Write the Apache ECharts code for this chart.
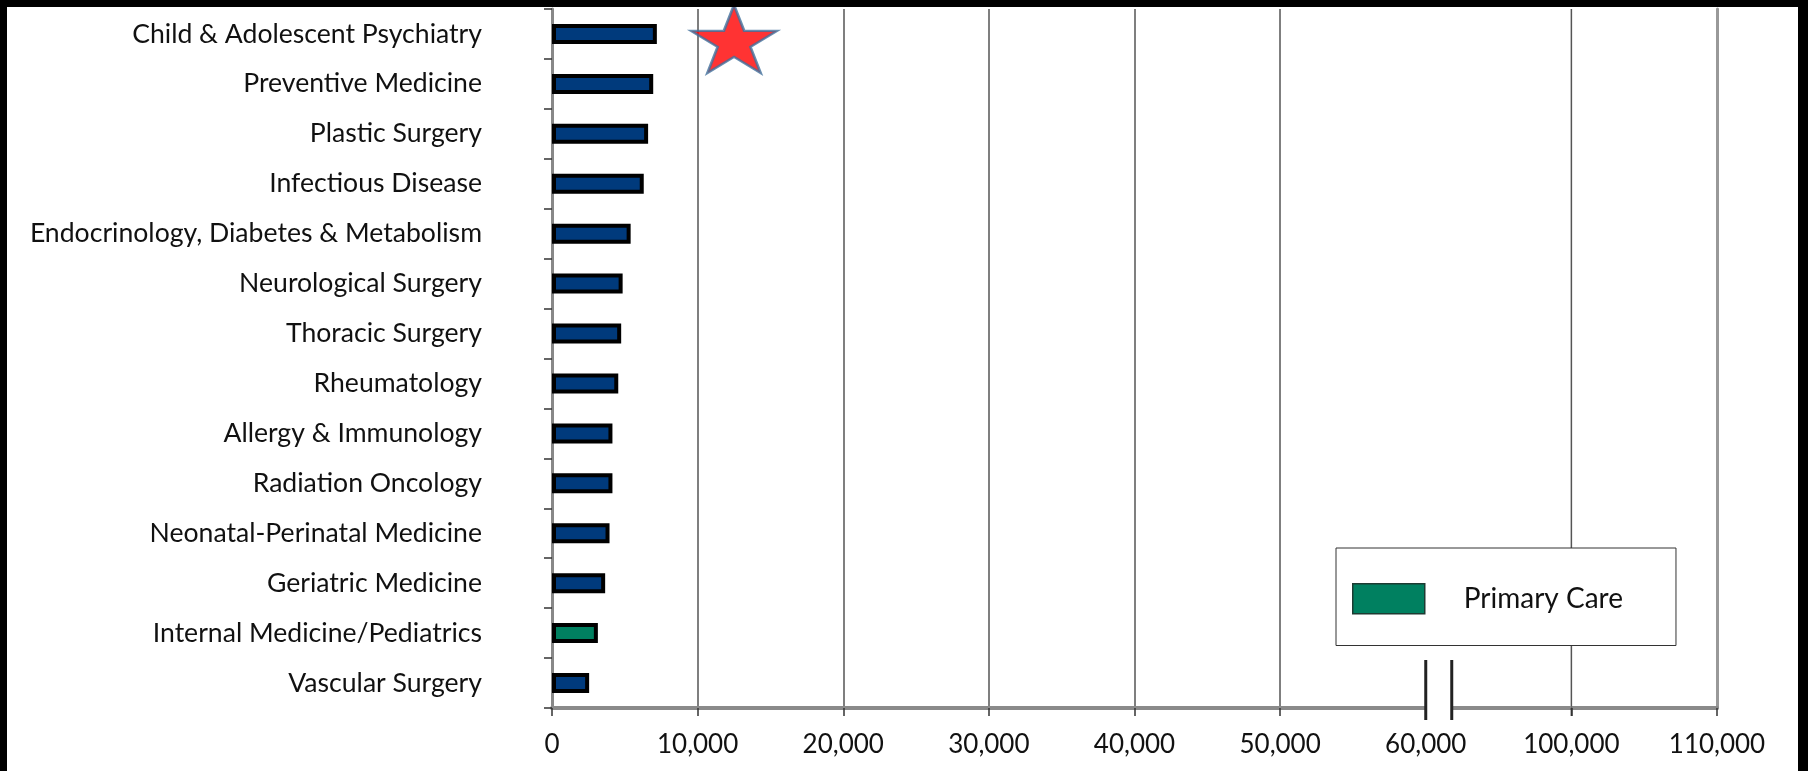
<!DOCTYPE html>
<html>
<head>
<meta charset="utf-8">
<script src="https://cdn.jsdelivr.net/npm/echarts@6/dist/echarts.min.js"></script>
<style>
  html, body { margin: 0; padding: 0; background: #fff; }
  #chart { width: 1808px; height: 771px; }
  #frame {
    position: absolute; left: 0; top: 0; width: 1808px; height: 771px;
    box-sizing: border-box; pointer-events: none;
    border-top: 7px solid #000; border-left: 7px solid #000; border-right: 10px solid #000;
  }
</style>
</head>
<body>
<div id="chart"></div>
<div id="frame"></div>
<script>
// Specialties, top to bottom
const specialties = [
  'Child & Adolescent Psychiatry',
  'Preventive Medicine',
  'Plastic Surgery',
  'Infectious Disease',
  'Endocrinology, Diabetes & Metabolism',
  'Neurological Surgery',
  'Thoracic Surgery',
  'Rheumatology',
  'Allergy & Immunology',
  'Radiation Oncology',
  'Neonatal-Perinatal Medicine',
  'Geriatric Medicine',
  'Internal Medicine/Pediatrics',
  'Vascular Surgery'
];

// Number of active physicians per specialty
const physicianCounts = [7200, 6950, 6600, 6300, 5400, 4850, 4750, 4550, 4150, 4150, 3950, 3650, 3150, 2550];

// Specialties counted as primary care
const primaryCare = ['Internal Medicine/Pediatrics'];

// Highlight star placed beside the first specialty
const starValue = 12500;
const starSpecialty = 'Child & Adolescent Psychiatry';

// Axis range and the broken stretch between 60,000 and 100,000
const axisMax = 110000;
const axisStep = 10000;
const breakStart = 60000;
const breakEnd = 100000;

const NAVY = '#003a7c';
const GREEN = '#008060';
const FONT = 'Lato';
const TEXT = '#111';
const AXIS_GREY = '#8a8a8a';
const GRID_GREY = '#555';

const specialtyData = specialties.map((s, i) => primaryCare.includes(s) ? '-' : physicianCounts[i]);
const primaryData = specialties.map((s, i) => primaryCare.includes(s) ? physicianCounts[i] : '-');

const STAR_PATH = 'path://M0,-100L22.45,-30.9L95.1,-30.9L36.33,11.8L58.78,80.9L0,38.2L-58.78,80.9L-36.33,11.8L-95.1,-30.9L-22.45,-30.9Z';

const GRID = { left: 552, right: 91, top: 9, bottom: 63 };

const chart = echarts.init(document.getElementById('chart'), null, { renderer: 'canvas' });

const barStyle = (color) => ({ color: color, borderColor: '#000', borderWidth: 4 });

chart.setOption({
  animation: false,
  backgroundColor: '#fff',
  textStyle: { fontFamily: FONT },
  grid: GRID,
  legend: {
    data: ['Primary Care'],
    left: 1336,
    top: 548,
    orient: 'horizontal',
    padding: [35, 53, 31, 16],
    itemWidth: 72,
    itemHeight: 30,
    icon: 'rect',
    backgroundColor: '#fff',
    borderColor: '#333',
    borderWidth: 1,
    itemStyle: { borderColor: '#1d3b32', borderWidth: 1.5 },
    textStyle: { fontFamily: FONT, fontSize: 28, color: TEXT, padding: [0, 0, 0, 34] },
    selectedMode: false,
    z: 10
  },
  xAxis: {
    type: 'value',
    min: 0,
    max: axisMax,
    interval: axisStep,
    breaks: [{ start: breakStart, end: breakEnd, gap: axisStep }],
    breakArea: { show: false },
    axisLine: { show: true, lineStyle: { color: AXIS_GREY, width: 4 } },
    axisTick: { show: true, length: 8, lineStyle: { color: '#333', width: 1.5 } },
    axisLabel: {
      margin: 24,
      fontFamily: FONT,
      fontSize: 26,
      color: TEXT,
      formatter: (v) => Number(v).toLocaleString('en-US')
    },
    splitLine: { show: true, lineStyle: { color: GRID_GREY, width: 1.5 } }
  },
  yAxis: [
    {
      type: 'category',
      data: specialties,
      inverse: true,
      axisLine: { show: true, lineStyle: { color: '#888', width: 3 } },
      axisTick: { show: true, length: 8, lineStyle: { color: '#333', width: 1.5 } },
      axisLabel: { margin: 70, fontFamily: FONT, fontSize: 26.6, color: TEXT },
      splitLine: { show: false }
    },
    {
      type: 'category',
      data: specialties,
      inverse: true,
      position: 'right',
      axisLine: { show: true, lineStyle: { color: '#999', width: 3 } },
      axisTick: { show: false },
      axisLabel: { show: false },
      splitLine: { show: false }
    }
  ],
  series: [
    {
      name: 'Specialty',
      type: 'bar',
      data: specialtyData,
      barWidth: 20,
      barGap: '-100%',
      itemStyle: barStyle(NAVY)
    },
    {
      name: 'Primary Care',
      type: 'bar',
      data: primaryData,
      barWidth: 20,
      barGap: '-100%',
      itemStyle: barStyle(GREEN)
    },
    {
      name: 'Highlight',
      type: 'scatter',
      data: [[starValue, starSpecialty]],
      symbol: STAR_PATH,
      symbolSize: [86, 68],
      symbolOffset: [0, 5],
      itemStyle: { color: '#ff0000', borderColor: '#41719c', borderWidth: 2.5 },
      z: 5
    }
  ]
});

// Axis break: baseline resumes just past 60,000, with two short bars marking the cut
const axisY = 771 - GRID.bottom;
const topY = GRID.top;
const breakX = chart.convertToPixel({ xAxisIndex: 0 }, breakStart);
const resumeX = chart.convertToPixel({ xAxisIndex: 0 }, breakEnd);
const breakW = 26;
chart.setOption({
  graphic: [
    { type: 'line', z: 1, shape: { x1: resumeX, y1: topY, x2: resumeX, y2: axisY }, style: { stroke: GRID_GREY, lineWidth: 1.5 } },
    { type: 'line', z: 2, shape: { x1: breakX + breakW, y1: axisY, x2: resumeX, y2: axisY }, style: { stroke: AXIS_GREY, lineWidth: 4 } },
    { type: 'line', z: 2, shape: { x1: resumeX, y1: axisY, x2: resumeX, y2: axisY + 8 }, style: { stroke: '#333', lineWidth: 1.5 } },
    { type: 'rect', z: 3, shape: { x: breakX + 1, y: axisY - 4, width: breakW - 2, height: 8 }, style: { fill: '#fff' } },
    { type: 'line', z: 4, shape: { x1: breakX, y1: axisY - 48, x2: breakX, y2: axisY + 12 }, style: { stroke: '#222', lineWidth: 3 } },
    { type: 'line', z: 4, shape: { x1: breakX + breakW, y1: axisY - 48, x2: breakX + breakW, y2: axisY + 12 }, style: { stroke: '#222', lineWidth: 3 } }
  ]
});
</script>
</body>
</html>
